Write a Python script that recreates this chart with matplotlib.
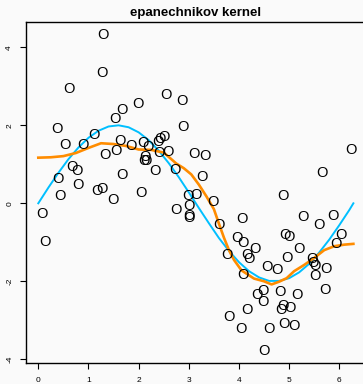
import numpy as np
from matplotlib import pyplot as plt

plt.rcParams['font.family'] = ['Liberation Sans', 'DejaVu Sans']
plt.rcParams['axes.unicode_minus'] = False

# noisy observations
x_obs = [0.074, 0.134, 0.367, 0.383, 0.433, 0.522, 0.612, 0.662, 0.761, 0.781,
         0.897, 1.100, 1.164, 1.270, 1.284, 1.264, 1.329, 1.495, 1.529, 1.539,
         1.619, 1.668, 1.674, 1.842, 1.981, 2.041, 2.087, 2.177, 2.117, 2.097,
         2.147, 2.332, 2.392, 2.426, 2.511, 2.412, 2.591, 2.545, 2.715, 2.745,
         2.858, 2.878, 2.990, 3.133, 3.004, 3.004, 3.010, 3.093, 3.323, 3.257,
         3.472, 3.602, 3.755, 3.951, 4.060, 4.086, 3.801, 4.034, 4.086, 4.154,
         4.200, 4.319, 4.154, 4.353, 4.473, 4.473, 4.505, 4.549, 4.748, 4.604,
         4.818, 4.883, 4.832, 5.007, 4.897, 5.097, 5.152, 4.883, 4.917, 4.987,
         4.963, 5.196, 5.270, 5.449, 5.469, 5.515, 5.515, 5.601, 5.645, 5.705,
         5.734, 5.868, 5.934, 6.034, 6.233]
y_obs = [-0.274, -1.005, 1.905, 0.623, 0.187, 1.495, 2.923, 0.931, 0.841, 0.469,
         1.495, 1.751, 0.315, 0.359, 4.315, 3.341, 1.238, 0.085, 2.174, 1.349,
         1.610, 2.392, 0.726, 1.469, 2.555, 0.264, 1.559, 1.436, 1.195, 1.085,
         1.085, 0.836, 1.579, 1.649, 1.708, 1.282, 1.328, 2.769, 0.854, -0.172,
         2.623, 1.944, 0.187, 0.213, -0.069, -0.326, -0.385, 1.264, 1.213, 0.674,
         0.033, -0.556, -1.326, -0.897, -0.403, -1.018, -2.923, -3.223, -1.838, -1.313,
         -1.436, -1.172, -2.736, -2.351, -2.249, -2.523, -3.787, -1.621, -1.710, -3.223,
         -2.267, -2.646, -2.736, -2.692, -3.103, -3.146, -2.351, 0.187, -0.813, -0.856,
         -1.390, -1.172, -0.359, -1.428, -1.531, -1.608, -1.864, -0.556, 0.777, -2.223,
         -1.677, -0.326, -1.051, -0.813, 1.367]

# true curve
x_true = [0.0, 0.2, 0.4, 0.6, 0.8, 1.0, 1.2, 1.4, 1.6, 1.8, 2.0, 2.2, 2.4, 2.6, 2.8, 3.0,
          3.2, 3.4, 3.6, 3.8, 4.0, 4.2, 4.4, 4.6, 4.8, 5.0, 5.2, 5.4, 5.6, 5.8, 6.0, 6.2, 6.28]
y_true = [0.0, 0.40, 0.78, 1.13, 1.43, 1.68, 1.86, 1.97, 2.00, 1.95, 1.82, 1.62, 1.35, 1.03,
          0.67, 0.28, -0.12, -0.51, -0.89, -1.22, -1.51, -1.74, -1.90, -1.99, -1.99, -1.92,
          -1.77, -1.55, -1.26, -0.93, -0.56, -0.17, 0.0]

# kernel smoother estimate
x_fit = [0.0, 0.25, 0.5, 0.75, 1.0, 1.25, 1.5, 1.75, 2.0, 2.25, 2.5, 2.6, 2.75, 2.9,
         3.05, 3.2, 3.35, 3.5, 3.6, 3.7, 3.8, 3.9, 4.05, 4.3, 4.5, 4.65, 4.8, 4.95,
         5.1, 5.3, 5.5, 5.7, 5.9, 6.1, 6.28]
y_fit = [1.17, 1.18, 1.21, 1.29, 1.42, 1.54, 1.52, 1.47, 1.38, 1.37, 1.30, 1.19, 1.02, 0.90,
         0.74, 0.48, 0.18, -0.15, -0.52, -0.88, -1.20, -1.45, -1.72, -1.93, -2.00, -2.08,
         -2.01, -1.92, -1.74, -1.58, -1.40, -1.20, -1.10, -1.06, -1.04]

x_ticks = [0, 1, 2, 3, 4, 5, 6]
y_ticks = [-4, -2, 0, 2, 4]

bg = '#fafafa'
fig = plt.figure(figsize=(3.63, 3.84), dpi=100, facecolor=bg)
ax = fig.add_axes([0.0708, 0.0555, 0.9375, 0.8872], facecolor=bg)

for xi, yi in zip(x_obs, y_obs):
    ax.text(xi, yi, 'O', ha='center', va='center', fontsize=10.5, color='black')

ax.plot(x_true, y_true, color='#00bfff', lw=1.4)
ax.plot(x_fit, y_fit, color='#ff8c00', lw=1.9)

ax.set_xlim(-0.251, 6.532)
ax.set_ylim(-4.087, 4.649)
ax.set_xticks(x_ticks)
ax.set_yticks(y_ticks)
ax.tick_params(axis='both', length=4, width=0.8, labelsize=6, colors='black')
ax.tick_params(axis='x', pad=6)
ax.tick_params(axis='y', pad=5)
for lab in ax.get_yticklabels():
    lab.set_rotation(90)
    lab.set_va('center')
for sp in ax.spines.values():
    sp.set_linewidth(1.0)

ax.set_title('epanechnikov kernel', fontsize=9.5, fontweight='bold', pad=4)

plt.savefig('out.png', dpi=100, facecolor=bg)
